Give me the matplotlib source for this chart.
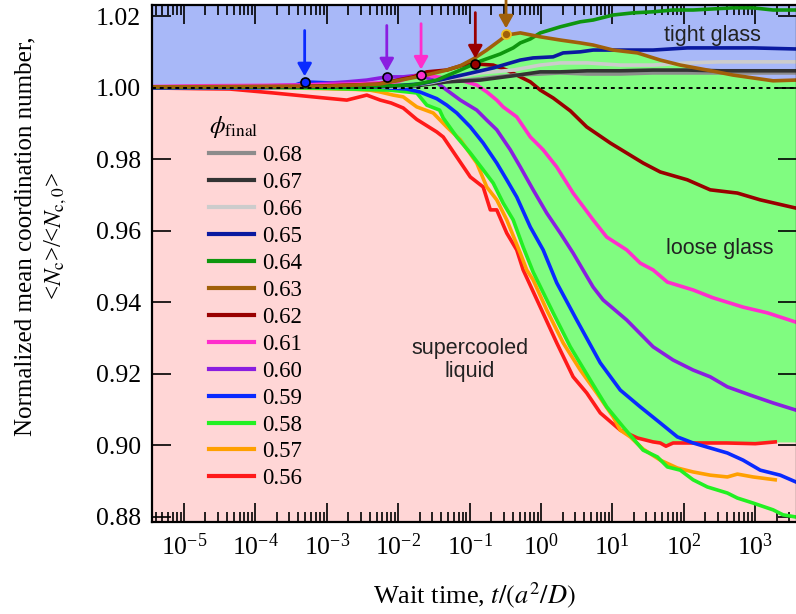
import numpy as np
import matplotlib
matplotlib.use("Agg")
import matplotlib.pyplot as plt
from matplotlib.ticker import LogLocator, FormatStrFormatter, NullFormatter

plt.rcParams['font.family'] = ['Liberation Serif', 'DejaVu Serif']
plt.rcParams['mathtext.fontset'] = 'stix'
plt.rcParams['axes.unicode_minus'] = False

# ---- data: log10(t) and normalized <Nc>/<Nc,0> ----
LT_056 = [-5.45, -4.8, -4.36, -3.75, -3.19, -2.72, -2.44, -2.25, -2.1, -1.93, -1.74, -1.46, -1.37,
          -0.99, -0.81, -0.71, -0.62, -0.48, -0.34, -0.25, -0.01, 0.22, 0.45, 0.64, 0.83, 1.11,
          1.35, 1.57, 1.67, 1.75, 1.85, 2.13, 2.6, 3.0, 3.28]
Y_056 = [1.0, 0.9998, 0.9997, 0.9986, 0.9975, 0.9966, 0.9980, 0.9966, 0.9958, 0.9944, 0.9912,
         0.9877, 0.9863, 0.9751, 0.9723, 0.9659, 0.9659, 0.9594, 0.9547, 0.9491, 0.9387, 0.9287,
         0.9192, 0.9147, 0.9091, 0.9043, 0.9021, 0.9010, 0.9007, 0.8998, 0.9007, 0.9007, 0.9007,
         0.9005, 0.9010]

LT_057 = [-5.45, -4.0, -3.0, -2.6, -2.4, -2.26, -2.07, -1.93, -1.74, -1.51, -1.32, -1.13, -0.90,
          -0.76, -0.62, -0.48, -0.29, -0.20, -0.11, 0.08, 0.31, 0.55, 0.78, 1.01, 1.11, 1.25, 1.43,
          1.67, 1.91, 2.13, 2.37, 2.61, 2.75, 2.97, 3.28]
Y_057 = [1.0003, 1.0002, 0.9998, 0.9996, 0.9994, 0.9989, 0.9980, 0.9975, 0.9947, 0.9930, 0.9891,
         0.9855, 0.9790, 0.9723, 0.9687, 0.9631, 0.9538, 0.9491, 0.9463, 0.9379, 0.9287, 0.9211,
         0.9147, 0.9080, 0.9043, 0.9024, 0.8990, 0.8959, 0.8937, 0.8926, 0.8917, 0.8912, 0.8920,
         0.8912, 0.8904]

LT_058 = [-5.45, -4.0, -3.0, -2.5, -2.12, -1.74, -1.60, -1.42, -1.37, -1.18, -0.99, -0.81, -0.67,
          -0.53, -0.39, -0.25, -0.11, 0.17, 0.41, 0.69, 0.92, 1.15, 1.43, 1.63, 1.77, 1.95, 2.13,
          2.33, 2.61, 2.75, 2.97, 3.25, 3.39, 3.57]
Y_058 = [1.0002, 1.0002, 0.9999, 0.9996, 0.9994, 0.9986, 0.9952, 0.9938, 0.9916, 0.9863, 0.9818,
         0.9771, 0.9734, 0.9678, 0.9631, 0.9555, 0.9485, 0.9371, 0.9276, 0.9183, 0.9108, 0.9052,
         0.8987, 0.8968, 0.8940, 0.8931, 0.8904, 0.8884, 0.8867, 0.8853, 0.8839, 0.8820, 0.8806,
         0.8800]

LT_059 = [-5.45, -4.0, -3.52, -3.31, -2.96, -2.49, -2.12, -1.88, -1.70, -1.46, -1.32, -1.18, -0.99,
          -0.81, -0.62, -0.48, -0.34, -0.15, 0.03, 0.22, 0.50, 0.83, 1.11, 1.39, 1.67, 1.91, 2.13,
          2.37, 2.61, 2.83, 3.07, 3.35, 3.57]
Y_059 = [1.0, 1.0, 1.0003, 1.0017, 1.0014, 1.0008, 1.0, 0.9997, 0.9989, 0.9970, 0.9952, 0.9930,
         0.9891, 0.9846, 0.9790, 0.9743, 0.9695, 0.9611, 0.9547, 0.9455, 0.9351, 0.9231, 0.9155,
         0.9108, 0.9063, 0.9024, 0.9007, 0.8993, 0.8979, 0.8959, 0.8931, 0.8917, 0.8898]

LT_060 = [-5.45, -4.0, -3.2, -2.72, -2.44, -2.16, -1.93, -1.70, -1.51, -1.32, -1.13, -0.90, -0.76,
          -0.62, -0.43, -0.29, -0.11, 0.08, 0.27, 0.45, 0.73, 0.87, 1.20, 1.57, 1.85, 2.13, 2.37,
          2.61, 2.93, 3.25, 3.57]
Y_060 = [1.0003, 1.0005, 1.0010, 1.0017, 1.0022, 1.0031, 1.0031, 1.0036, 1.0022, 0.9994, 0.9966,
         0.9938, 0.9910, 0.9883, 0.9827, 0.9779, 0.9715, 0.9650, 0.9594, 0.9538, 0.9443, 0.9407,
         0.9351, 0.9276, 0.9239, 0.9211, 0.9192, 0.9164, 0.9141, 0.9119, 0.9099]

LT_061 = [-5.45, -4.78, -3.38, -2.5, -2.02, -1.68, -1.46, -1.13, -0.90, -0.76, -0.62, -0.53, -0.34,
          -0.15, 0.03, 0.22, 0.45, 0.73, 0.92, 1.20, 1.39, 1.57, 1.77, 2.13, 2.41, 2.83, 3.17, 3.57]
Y_061 = [1.0004, 1.0006, 1.0008, 1.0012, 1.0017, 1.0039, 1.0031, 1.0022, 1.0008, 0.9989, 0.9966,
         0.9947, 0.9919, 0.9863, 0.9827, 0.9779, 0.9706, 0.9631, 0.9583, 0.9547, 0.9510, 0.9491,
         0.9457, 0.9435, 0.9413, 0.9387, 0.9371, 0.9345]

LT_062 = [-5.45, -3.38, -2.3, -1.79, -1.60, -1.32, -1.09, -0.92, -0.67, -0.48, -0.29, -0.15, -0.01,
          0.17, 0.41, 0.64, 0.97, 1.43, 1.67, 2.05, 2.37, 2.75, 3.07, 3.57]
Y_062 = [1.0002, 1.0004, 1.0010, 1.0031, 1.0045, 1.0050, 1.0064, 1.0067, 1.0064, 1.0050, 1.0031,
         1.0017, 0.9994, 0.9972, 0.9936, 0.9891, 0.9846, 0.9790, 0.9765, 0.9743, 0.9715, 0.9706,
         0.9687, 0.9664]

LT_063 = [-5.45, -3.0, -2.26, -1.65, -1.32, -1.13, -0.95, -0.76, -0.57, -0.48, -0.29, -0.01, 0.27,
          0.55, 0.73, 1.01, 1.35, 1.67, 1.95, 2.33, 2.69, 2.97, 3.25, 3.57]
Y_063 = [1.0003, 1.0005, 1.0011, 1.0034, 1.0050, 1.0062, 1.0081, 1.0106, 1.0134, 1.0148, 1.0154,
         1.0143, 1.0134, 1.0126, 1.0120, 1.0106, 1.0098, 1.0078, 1.0064, 1.0050, 1.0036, 1.0028,
         1.0020, 1.0022]

LT_064 = [-5.45, -2.5, -1.8, -1.46, -1.13, -0.85, -0.57, -0.39, -0.29, -0.15, -0.01, 0.27, 0.55,
          0.73, 1.01, 1.29, 1.57, 1.85, 2.13, 2.41, 2.69, 2.97, 3.25, 3.57]
Y_064 = [1.0002, 1.0003, 1.0008, 1.0022, 1.0050, 1.0075, 1.0095, 1.0112, 1.0126, 1.0137, 1.0154,
         1.0171, 1.0185, 1.0190, 1.0204, 1.0210, 1.0213, 1.0218, 1.0218, 1.0221, 1.0224, 1.0224,
         1.0218, 1.0218]

LT_065 = [-5.45, -2.26, -1.70, -1.42, -1.04, -0.67, -0.48, -0.29, -0.11, 0.17, 0.31, 0.55, 0.73,
          1.11, 1.57, 2.05, 2.51, 2.97, 3.57]
Y_065 = [1.0, 1.0003, 1.0011, 1.0022, 1.0039, 1.0056, 1.0067, 1.0078, 1.0084, 1.0087, 1.0098,
         1.0101, 1.0106, 1.0106, 1.0106, 1.0112, 1.0112, 1.0112, 1.0109]

LT_066 = [-5.45, -2.0, -1.56, -1.23, -0.85, -0.39, -0.01, 0.27, 0.65, 1.11, 1.57, 2.05, 2.51, 2.97, 3.57]
Y_066 = [1.0, 1.0003, 1.0014, 1.0028, 1.0042, 1.0050, 1.0064, 1.0070, 1.0070, 1.0064, 1.0064,
         1.0070, 1.0073, 1.0073, 1.0073]

LT_067 = [-5.45, -1.74, -1.32, -0.85, -0.39, -0.01, 0.27, 0.65, 1.11, 1.57, 2.05, 2.51, 2.97, 3.57]
Y_067 = [1.0, 1.0006, 1.0017, 1.0022, 1.0034, 1.0045, 1.0045, 1.0048, 1.0048, 1.0050, 1.0050,
         1.0048, 1.0048, 1.0048]

LT_068 = [-5.45, -2.0, -1.56, -1.04, -0.76, -0.39, -0.01, 0.27, 0.65, 1.11, 1.57, 2.05, 2.51, 3.57]
Y_068 = [1.0, 1.0004, 1.0014, 1.0022, 1.0028, 1.0036, 1.0039, 1.0042, 1.0039, 1.0039, 1.0042,
         1.0042, 1.0042, 1.0042]

PHI = ["0.68", "0.67", "0.66", "0.65", "0.64", "0.63", "0.62", "0.61", "0.60", "0.59", "0.58", "0.57", "0.56"]
COLORS = ["#8c8c8c", "#333333", "#cccccc", "#0a1aa0", "#0e960e", "#a0600a", "#990000", "#ff2ecc",
          "#8a1ee0", "#0a2aff", "#22f022", "#ffa000", "#ff1a1a"]
SERIES = [(LT_068, Y_068), (LT_067, Y_067), (LT_066, Y_066), (LT_065, Y_065), (LT_064, Y_064),
          (LT_063, Y_063), (LT_062, Y_062), (LT_061, Y_061), (LT_060, Y_060), (LT_059, Y_059),
          (LT_058, Y_058), (LT_057, Y_057), (LT_056, Y_056)]

# onset markers (arrows): phi, log10 t, value
MARK_PHI = ["0.59", "0.60", "0.61", "0.62", "0.63"]
MARK_LT = [-3.31, -2.16, -1.68, -0.92, -0.49]
MARK_Y = [1.0017, 1.0031, 1.0036, 1.0067, 1.0151]

XMIN_LT, XMAX_LT = -5.448, 3.585
YMIN, YMAX = 0.8786, 1.0232

C_BLUE, C_PINK, C_GREEN = "#a8b8f8", "#ffd6d6", "#80fc80"

fig = plt.figure(figsize=(7.96, 6.14), dpi=100)
ax = fig.add_axes([152/796, 92/614, 645/796, 517/614])
ax.set_xscale("log")
ax.set_xlim(10**XMIN_LT, 10**XMAX_LT)
ax.set_ylim(YMIN, YMAX)

# background regions
ax.axhspan(1.0, YMAX, color=C_BLUE, lw=0, zorder=0)
ax.axhspan(YMIN, 1.0, color=C_PINK, lw=0, zorder=0)

# loose-glass region: under the 0.63 curve, above the 0.58 / 0.56 curves
grid = np.linspace(-2.45, XMAX_LT, 600)
upper = np.maximum(np.interp(grid, LT_063, Y_063), 1.0)
lower = np.maximum(np.interp(grid, LT_058, Y_058), np.interp(grid, LT_056, Y_056))
ax.fill_between(10**grid, lower, upper, where=upper > lower, color=C_GREEN, lw=0, zorder=0.5)

lines = {}
order = [12, 11, 10, 9, 8, 7, 6, 0, 1, 2, 3, 4, 5]
for i in order:
    lt, y = SERIES[i]
    ln, = ax.plot(10**np.array(lt), y, color=COLORS[i], lw=2.6, solid_joinstyle="round", zorder=2)
    lines[PHI[i]] = ln

ax.axhline(1.0, color="k", lw=1.4, ls=(0, (2, 2)), zorder=4)

for phi, lt, y in zip(MARK_PHI, MARK_LT, MARK_Y):
    c = COLORS[PHI.index(phi)]
    edge = "#f0c020" if phi == "0.63" else "k"
    ax.plot(10**lt, y, "o", ms=6.5, mfc=c, mec=edge, mew=1.2, zorder=6)
    ax.annotate("", xy=(10**lt, y), xytext=(0, 37), textcoords="offset points",
                arrowprops=dict(arrowstyle="-|>,head_length=0.5,head_width=0.28", color=c,
                                lw=2, shrinkA=0, shrinkB=4, mutation_scale=15),
                annotation_clip=False, zorder=6)

# region labels
ax.text(10**2.40, 1.0148, "tight glass", family="Liberation Sans", fontsize=15.5, color="#222222",
        ha="center", va="center")
ax.text(10**2.51, 0.9552, "loose glass", family="Liberation Sans", fontsize=15.5, color="#222222",
        ha="center", va="center")
ax.text(10**-1.0, 0.9239, "supercooled\nliquid", family="Liberation Sans", fontsize=15.5,
        color="#222222", ha="center", va="center", linespacing=1.15)

# axes styling
ax.xaxis.set_major_locator(LogLocator(base=10, numticks=20))
ax.xaxis.set_minor_locator(LogLocator(base=10, subs=np.arange(2, 10), numticks=20))
ax.xaxis.set_minor_formatter(NullFormatter())
ax.set_yticks(np.arange(0.88, 1.0201, 0.02))
ax.yaxis.set_major_formatter(FormatStrFormatter("%.2f"))
ax.tick_params(which="both", direction="in", top=True, right=True, width=1.2, colors="k")
ax.tick_params(which="major", length=14, labelsize=18.5, pad=8)
ax.tick_params(which="minor", length=7)
for s in ax.spines.values():
    s.set_linewidth(1.6)

ax.set_xlabel(r"Wait time, $t/(a^2/D)$", fontsize=19)
ax.set_ylabel("Normalized mean coordination number,\n<$N_\\mathrm{c}$>/<$N_\\mathrm{c,0}$>",
              fontsize=18, linespacing=1.35)
ax.yaxis.set_label_coords(-0.128, 0.553)
ax.xaxis.set_label_coords(0.5, -0.112)

handles = [lines[p] for p in PHI]
leg = ax.legend(handles, PHI, loc="upper left", bbox_to_anchor=(0.088, 0.79), frameon=False,
                fontsize=16.5, handlelength=1.96, handletextpad=0.39, labelspacing=0.256,
                title=r"$\phi_{\rm final}$", title_fontsize=18, alignment="left",
                borderaxespad=0, borderpad=0)
for h in leg.get_lines():
    h.set_linewidth(3)

fig.savefig("out.png", dpi=100)
